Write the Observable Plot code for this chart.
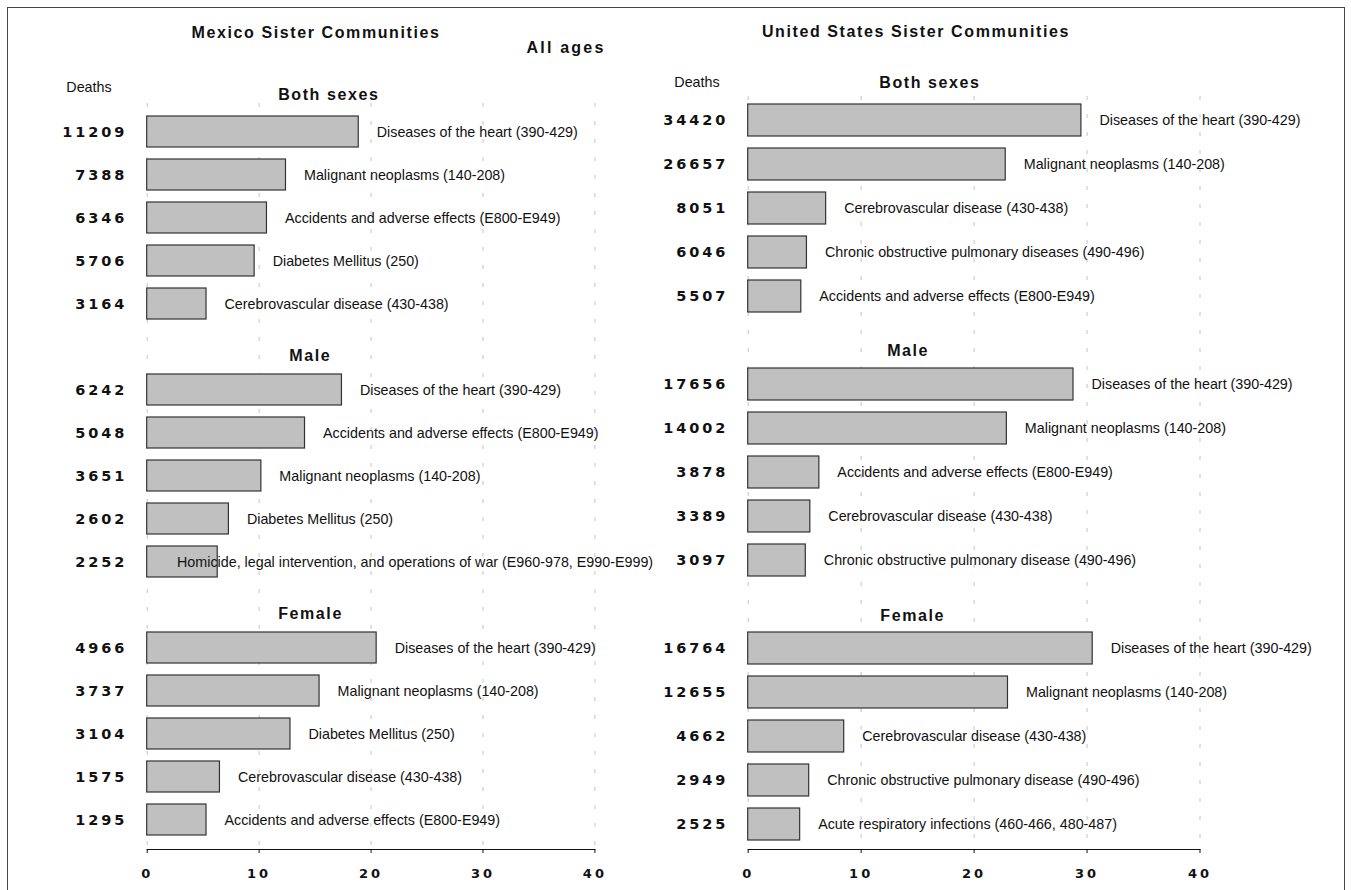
<!DOCTYPE html>
<html><head><meta charset="utf-8">
<script src="https://cdn.jsdelivr.net/npm/d3@7"></script>
<script src="https://cdn.jsdelivr.net/npm/@observablehq/plot@0.6"></script>
<style>
body{margin:0;background:#fff;width:1351px;height:890px;overflow:hidden;position:relative;font-family:"Liberation Sans",Arial,sans-serif;color:#111}
#frame{position:absolute;left:7px;top:7px;width:1338px;height:910px;border:1.5px solid #444;box-sizing:border-box}
.t{position:absolute;transform:translate(-50%,-50%);white-space:nowrap}
.title{font-weight:bold;font-size:16px;letter-spacing:1.6px}
.deaths{font-size:14.3px}
.panel{position:absolute;top:0}
.panel svg{overflow:visible}
g[aria-label="x-axis tick label"] text{letter-spacing:3px}
</style></head>
<body>
<div id="frame"></div>
<div class="t title" style="left:316px;top:33px">Mexico Sister Communities</div>
<div class="t title" style="left:916px;top:32px">United States Sister Communities</div>
<div class="t title" style="left:566px;top:48px;letter-spacing:2.2px">All ages</div>
<div class="t deaths" style="left:89px;top:87px">Deaths</div>
<div class="t deaths" style="left:697px;top:82px">Deaths</div>
<div id="left" class="panel" style="left:0px"></div>
<div id="right" class="panel" style="left:675px"></div>
<script>
const sexes = ["Both sexes", "Male", "Female"];
const xTicks = [0, 10, 20, 30, 40];

const mexicoCauses = [
  "Diseases of the heart (390-429)", "Malignant neoplasms (140-208)", "Accidents and adverse effects (E800-E949)", "Diabetes Mellitus (250)", "Cerebrovascular disease (430-438)",
  "Diseases of the heart (390-429)", "Accidents and adverse effects (E800-E949)", "Malignant neoplasms (140-208)", "Diabetes Mellitus (250)", "Homicide, legal intervention, and operations of war (E960-978, E990-E999)",
  "Diseases of the heart (390-429)", "Malignant neoplasms (140-208)", "Diabetes Mellitus (250)", "Cerebrovascular disease (430-438)", "Accidents and adverse effects (E800-E949)"
];
const mexicoDeaths = [11209, 7388, 6346, 5706, 3164, 6242, 5048, 3651, 2602, 2252, 4966, 3737, 3104, 1575, 1295];
const mexicoPercent = [18.9, 12.4, 10.7, 9.6, 5.3, 17.4, 14.1, 10.2, 7.3, 6.3, 20.5, 15.4, 12.8, 6.5, 5.3];

const usCauses = [
  "Diseases of the heart (390-429)", "Malignant neoplasms (140-208)", "Cerebrovascular disease (430-438)", "Chronic obstructive pulmonary diseases (490-496)", "Accidents and adverse effects (E800-E949)",
  "Diseases of the heart (390-429)", "Malignant neoplasms (140-208)", "Accidents and adverse effects (E800-E949)", "Cerebrovascular disease (430-438)", "Chronic obstructive pulmonary disease (490-496)",
  "Diseases of the heart (390-429)", "Malignant neoplasms (140-208)", "Cerebrovascular disease (430-438)", "Chronic obstructive pulmonary disease (490-496)", "Acute respiratory infections (460-466, 480-487)"
];
const usDeaths = [34420, 26657, 8051, 6046, 5507, 17656, 14002, 3878, 3389, 3097, 16764, 12655, 4662, 2949, 2525];
const usPercent = [29.5, 22.8, 6.9, 5.2, 4.7, 28.8, 22.9, 6.3, 5.5, 5.1, 30.5, 23.0, 8.5, 5.4, 4.6];

const labelFont = "14.3px 'Liberation Sans'";
const ctx = document.createElement("canvas").getContext("2d");
ctx.font = labelFont;

function panel(o) {
  const rows = o.causes.map((c, i) => ({
    cause: c, deaths: o.deaths[i], pct: o.pct[i],
    slot: sexes[Math.floor(i / 5)] + "|" + (i % 5)
  }));
  const domain = [];
  sexes.forEach((s, k) => { for (let j = 0; j < 5; j++) domain.push(s + "|" + j); if (k < 2) domain.push("gap" + k); });
  const ppu = (o.width - o.mL - o.mR) / 40;
  const fits = d => d.pct * ppu + 18 + ctx.measureText(d.cause).width <= o.labelMax * ppu;
  const heads = [
    {s: sexes[0], slot: sexes[0] + "|0", dy: o.headDy[0], x: o.headX[0]},
    {s: sexes[1], slot: "gap0", dy: o.headDy[1], x: o.headX[1]},
    {s: sexes[2], slot: "gap1", dy: o.headDy[2], x: o.headX[2]}
  ];
  const svg = Plot.plot({
    width: o.width, height: 890,
    marginLeft: o.mL, marginRight: o.mR, marginTop: o.mT, marginBottom: 41,
    style: {fontFamily: "'Liberation Sans', Arial, sans-serif", fontSize: "14.3px", color: "#111", background: "transparent", overflow: "visible"},
    x: {domain: [0, 40]},
    y: {type: "band", domain, paddingInner: 0.27, paddingOuter: 0.135, axis: null},
    marks: [
      Plot.ruleX(xTicks, {stroke: "#c4c4c4", strokeDasharray: "4,14", strokeWidth: 1}),
      Plot.barX(rows, {x: "pct", y: "slot", fill: "#c0c0c0", stroke: "#333", strokeWidth: 1.2}),
      Plot.text(rows, {x: () => 0, y: "slot", text: d => String(d.deaths), textAnchor: "end", dx: -20, fontWeight: "bold", fontFamily: "DejaVu Sans", fontSize: 14.5}),
      Plot.text(rows.filter(fits), {x: "pct", y: "slot", text: "cause", textAnchor: "start", dx: 18}),
      Plot.text(rows.filter(d => !fits(d)), {x: () => o.labelMax, y: "slot", text: "cause", textAnchor: "end"}),
      Plot.frame({anchor: "bottom", stroke: "#111"}),
      Plot.axisX({ticks: xTicks, tickSize: 4, tickPadding: 15, fontWeight: "bold", fontFamily: "DejaVu Sans", fontSize: 13, label: null}),
      ...heads.map(h => Plot.text([h], {x: () => h.x, y: "slot", text: "s", dy: h.dy, textAnchor: "start", fontWeight: "bold", fontSize: 16}))
    ]
  });
  const deathSet = new Set(o.deaths.map(String));
  svg.querySelectorAll("text").forEach(t => {
    const s = t.textContent;
    if (sexes.includes(s)) t.style.letterSpacing = "1.6px";
    else if (deathSet.has(s)) t.style.letterSpacing = "2.9px";
  });
  return svg;
}

document.getElementById("left").append(panel({
  causes: mexicoCauses, deaths: mexicoDeaths, pct: mexicoPercent,
  width: 675, mL: 146.7, mR: 80.6, mT: 103, labelMax: 45.2,
  headDy: [-37, 8.6, 8.4], headX: [11.7, 12.7, 11.7]
}));
document.getElementById("right").append(panel({
  causes: usCauses, deaths: usDeaths, pct: usPercent,
  width: 676, mL: 72.7, mR: 151.5, mT: 96, labelMax: 54,
  headDy: [-38, 10.4, 11.6], headX: [11.6, 12.3, 11.7]
}));
</script>
</body></html>
